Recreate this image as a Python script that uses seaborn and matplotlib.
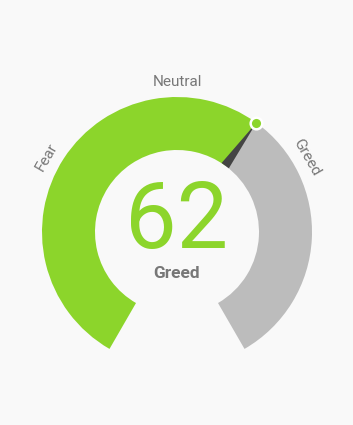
import numpy as np
import pandas as pd
import matplotlib
matplotlib.use("Agg")
import matplotlib.pyplot as plt
from matplotlib.patches import Wedge, Polygon
import seaborn as sns

# ---- data ----
value = 62
value_label = "Greed"
gauge_min, gauge_max = 0, 100
zone_labels = ["Fear", "Neutral", "Greed"]
zone_label_values = [30, 50, 70]

# ---- style ----
GREEN = "#8cd52b"
GRAY = "#bcbcbc"
NEEDLE = "#444444"
TEXT = "#777777"
BG = "#f9f9f9"

sns.set_style("white")
plt.rcParams["font.family"] = ["Roboto", "DejaVu Sans"]

W, H = 353, 425
fig = plt.figure(figsize=(W / 100, H / 100), dpi=100, facecolor=BG)
ax = fig.add_axes([0, 0, 1, 1])
ax.set_facecolor(BG)

cx, cy = 177, 193
R_out, R_in = 135, 82


def ang(v):
    # 300-degree sweep, midpoint at top
    return 90 - (v - (gauge_min + gauge_max) / 2) * 300 / (gauge_max - gauge_min)


a0, a1, av = ang(gauge_min), ang(gauge_max), ang(value)
ax.add_patch(Wedge((cx, cy), R_out, av, a0, width=R_out - R_in, color=GREEN, lw=0))
ax.add_patch(Wedge((cx, cy), R_out, a1, av, width=R_out - R_in, color=GRAY, lw=0))

# needle
t = np.deg2rad(av)
ux, uy = np.cos(t), np.sin(t)
px, py = -uy, ux
hw = 4.5
base = (cx + R_in * ux, cy + R_in * uy)
tip = (cx + R_out * ux, cy + R_out * uy)
needle = Polygon([(base[0] + px * hw, base[1] + py * hw),
                  (base[0] - px * hw, base[1] - py * hw),
                  tip], closed=True, color=NEEDLE, lw=0)
ax.add_patch(needle)

dot = pd.DataFrame({"x": [tip[0]], "y": [tip[1]]})
sns.scatterplot(data=dot, x="x", y="y", ax=ax, s=70, color=GREEN,
                edgecolor="white", linewidth=1.8, zorder=5, legend=False)
ax.set_xlim(0, W)
ax.set_ylim(0, H)
ax.set_aspect("equal")
ax.axis("off")

# zone labels
R_lab = 150
for lab, v in zip(zone_labels, zone_label_values):
    a = ang(v)
    tr = np.deg2rad(a)
    ax.text(cx + R_lab * np.cos(tr), cy + R_lab * np.sin(tr), lab,
            rotation=a - 90, rotation_mode="anchor", ha="center", va="center",
            fontsize=11, color=TEXT)

ax.text(cx, 177, str(value), ha="center", va="baseline", fontsize=66,
        color=GREEN)
ax.text(cx, 147, value_label, ha="center", va="baseline", fontsize=12.5,
        fontweight="bold", color=TEXT)

fig.savefig("out.png", dpi=100, facecolor=BG)
